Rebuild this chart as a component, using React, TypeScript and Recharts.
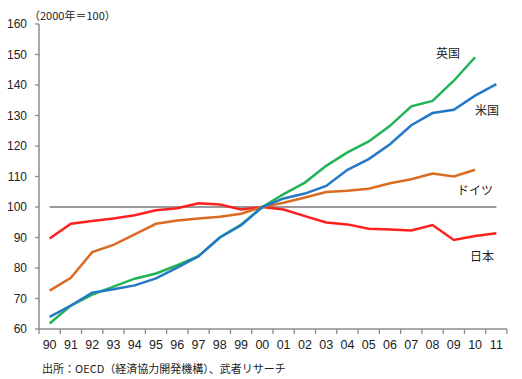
import React from 'react';
import { LineChart, Line, XAxis, YAxis, ReferenceLine } from 'recharts';

const years = ['90','91','92','93','94','95','96','97','98','99','00','01','02','03','04','05','06','07','08','09','10','11'];
const japan = [89.7, 94.5, 95.4, 96.2, 97.3, 98.9, 99.6, 101.2, 100.8, 99.2, 100, 99.2, 97.0, 94.9, 94.3, 92.9, 92.6, 92.3, 94.1, 89.2, 90.5, 91.4];
const germany = [72.6, 76.8, 85.2, 87.6, 91.0, 94.5, 95.6, 96.2, 96.8, 97.8, 100, 101.4, 103.1, 104.9, 105.3, 106.0, 107.8, 109.1, 111.0, 110.0, 112.2, null];
const uk = [61.8, 67.7, 71.3, 73.9, 76.5, 78.2, 80.9, 83.9, 90.0, 94.2, 100, 104.2, 108.0, 113.5, 117.9, 121.5, 126.6, 133.0, 134.8, 141.4, 149.1, null];
const us = [64.0, 67.7, 71.9, 73.0, 74.3, 76.6, 80.1, 83.9, 90.0, 94.0, 100, 102.8, 104.4, 106.9, 112.2, 115.7, 120.6, 126.8, 130.8, 131.9, 136.5, 140.3];
const yTicks = [60, 70, 80, 90, 100, 110, 120, 130, 140, 150, 160];
const baseValue = 100;

const unitLabel = '（2000年＝100）';
const sourceLabel = '出所：OECD（経済協力開発機構）、武者リサーチ';
const seriesLabels = { uk: '英国', us: '米国', germany: 'ドイツ', japan: '日本' };

const data = years.map((y, i) => ({
  year: y,
  japan: japan[i],
  germany: germany[i],
  uk: uk[i],
  us: us[i],
}));

const W = 522;
const H = 379;
const M = { top: 24, right: 15, left: 0, bottom: 20 };
const Y_W = 39;
const X_H = 30;
const PLOT_W = W - M.left - M.right - Y_W;
const BAND = PLOT_W / years.length;

const FONT = '"Liberation Sans", Arial, "Noto Sans CJK JP", sans-serif';
const AXIS = '#8c8c8c';

const XTick = (props: any) => {
  const { x, y, payload, index } = props;
  const last = index === years.length - 1;
  return (
    <g>
      <line x1={x - BAND / 2} x2={x - BAND / 2} y1={y} y2={y + 5} stroke={AXIS} strokeWidth={1.3} />
      {last && <line x1={x + BAND / 2} x2={x + BAND / 2} y1={y} y2={y + 5} stroke={AXIS} strokeWidth={1.3} />}
      <text x={x} y={y + 20} textAnchor="middle" fontSize={12.5} fill="#222" fontFamily={FONT}>
        {payload.value}
      </text>
    </g>
  );
};

const labelStyle: React.CSSProperties = {
  position: 'absolute',
  fontFamily: '"Noto Sans CJK JP", sans-serif',
  fontSize: 12,
  color: '#222',
  lineHeight: '14px',
  whiteSpace: 'nowrap',
};

export default function App() {
  return (
    <div style={{ position: 'absolute', left: 0, top: 0, width: W, height: H, background: '#fff' }}>
      <LineChart width={W} height={H} data={data} margin={M}>
        <XAxis
          dataKey="year"
          scale="band"
          height={X_H}
          tickSize={0}
          tickMargin={0}
          tickLine={false}
          interval={0}
          axisLine={{ stroke: AXIS, strokeWidth: 1.5 }}
          tick={<XTick />}
        />
        <YAxis
          width={Y_W}
          domain={[60, 160]}
          ticks={yTicks}
          interval={0}
          tickSize={4}
          tickMargin={8}
          axisLine={{ stroke: AXIS, strokeWidth: 1.5 }}
          tickLine={{ stroke: AXIS, strokeWidth: 1.3 }}
          tick={{ fontSize: 12, fill: '#222', fontFamily: FONT }}
        />
        <ReferenceLine
          segment={[{ x: years[0], y: baseValue }, { x: years[years.length - 1], y: baseValue }]}
          stroke="#9a9a9a"
          strokeWidth={1.8}
        />
        <Line dataKey="japan" stroke="#ff1f1f" strokeWidth={2.5} dot={false} isAnimationActive={false} />
        <Line dataKey="germany" stroke="#d96b22" strokeWidth={2.5} dot={false} isAnimationActive={false} />
        <Line dataKey="uk" stroke="#22b356" strokeWidth={2.5} dot={false} isAnimationActive={false} />
        <Line dataKey="us" stroke="#2479c6" strokeWidth={2.5} dot={false} isAnimationActive={false} />
      </LineChart>
      <div style={{ ...labelStyle, fontSize: 11, left: 29, top: 8 }}>{unitLabel}</div>
      <div style={{ ...labelStyle, left: 436, top: 46 }}>{seriesLabels.uk}</div>
      <div style={{ ...labelStyle, left: 475, top: 103 }}>{seriesLabels.us}</div>
      <div style={{ ...labelStyle, left: 457, top: 183 }}>{seriesLabels.germany}</div>
      <div style={{ ...labelStyle, left: 470, top: 249 }}>{seriesLabels.japan}</div>
      <div style={{ ...labelStyle, fontSize: 11, left: 42, top: 361 }}>{sourceLabel}</div>
    </div>
  );
}
